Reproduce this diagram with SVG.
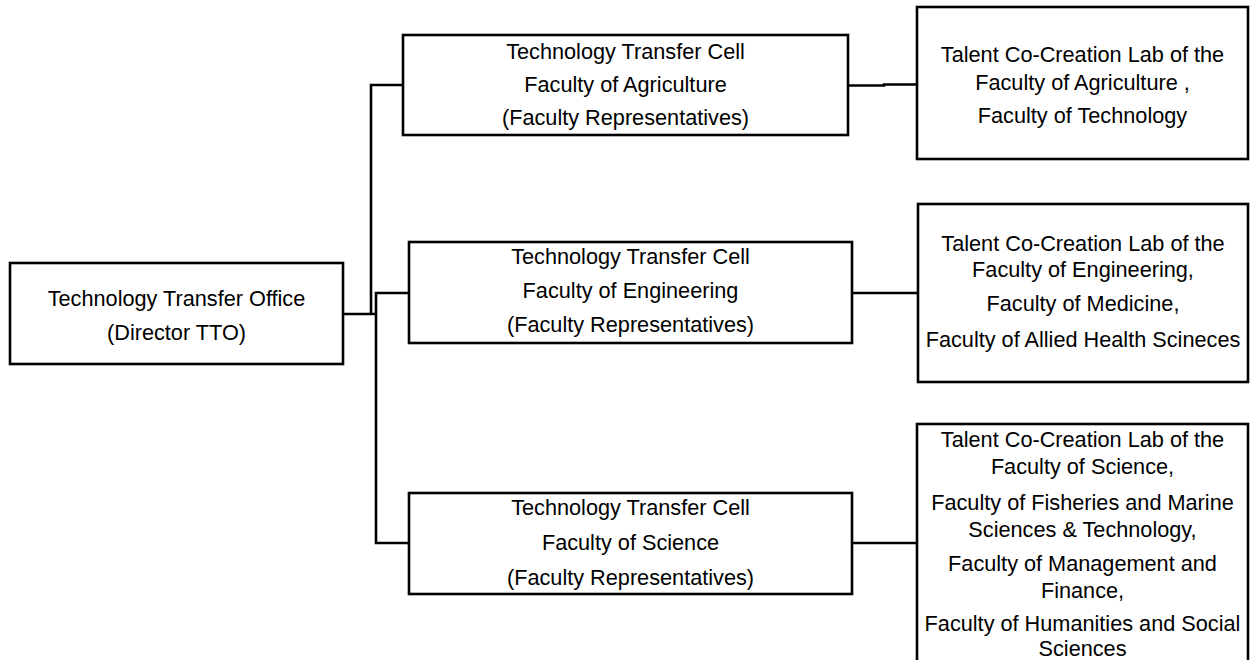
<svg xmlns="http://www.w3.org/2000/svg" width="1250" height="660" viewBox="0 0 1250 660">
<style>
rect.box{fill:#fff;stroke:#000;stroke-width:2.6}
.conn path{fill:none;stroke:#000;stroke-width:2.6}
text{font-family:"Liberation Sans",Arial,sans-serif;font-size:21.7px;fill:#000;text-anchor:middle}
</style>
<rect width="1250" height="660" fill="#fff"/>
<g class="conn">
<path d="M343 314 H376"/>
<path d="M371 314 V85 H403"/>
<path d="M376 314 V293 H409"/>
<path d="M376 314 V543 H409"/>
<path d="M848 85.5 H884 V84.5 H917"/>
<path d="M852 293 H918"/>
<path d="M852 543 H917"/>
</g>
<g id="tto">
<rect class="box" x="10" y="263" width="333" height="101"/>
<text x="176.5" y="306">Technology Transfer Office</text>
<text x="176.5" y="340">(Director TTO)</text>
</g>
<g id="ttc-agri">
<rect class="box" x="403" y="35" width="445" height="100"/>
<text x="625.5" y="59">Technology Transfer Cell</text>
<text x="625.5" y="92">Faculty of Agriculture</text>
<text x="625.5" y="125">(Faculty Representatives)</text>
</g>
<g id="ttc-eng">
<rect class="box" x="409" y="242" width="443" height="101"/>
<text x="630.5" y="264">Technology Transfer Cell</text>
<text x="630.5" y="298">Faculty of Engineering</text>
<text x="630.5" y="332">(Faculty Representatives)</text>
</g>
<g id="ttc-sci">
<rect class="box" x="409" y="493" width="443" height="101"/>
<text x="630.5" y="515">Technology Transfer Cell</text>
<text x="630.5" y="550">Faculty of Science</text>
<text x="630.5" y="585">(Faculty Representatives)</text>
</g>
<g id="lab-agri">
<rect class="box" x="917" y="7" width="331" height="152"/>
<text x="1082.5" y="62">Talent Co-Creation Lab of the</text>
<text x="1082.5" y="90">Faculty of Agriculture ,</text>
<text x="1082.5" y="123">Faculty of Technology</text>
</g>
<g id="lab-eng">
<rect class="box" x="918" y="204" width="330" height="178"/>
<text x="1083" y="251">Talent Co-Creation Lab of the</text>
<text x="1083" y="277">Faculty of Engineering,</text>
<text x="1083" y="311">Faculty of Medicine,</text>
<text x="1083" y="347">Faculty of Allied Health Scineces</text>
</g>
<g id="lab-sci">
<rect class="box" x="917" y="424" width="331" height="260"/>
<text x="1082.5" y="447">Talent Co-Creation Lab of the</text>
<text x="1082.5" y="474">Faculty of Science,</text>
<text x="1082.5" y="510">Faculty of Fisheries and Marine</text>
<text x="1082.5" y="537">Sciences &amp; Technology,</text>
<text x="1082.5" y="571">Faculty of Management and</text>
<text x="1082.5" y="598">Finance,</text>
<text x="1082.5" y="631">Faculty of Humanities and Social</text>
<text x="1082.5" y="656">Sciences</text>
</g>
</svg>
